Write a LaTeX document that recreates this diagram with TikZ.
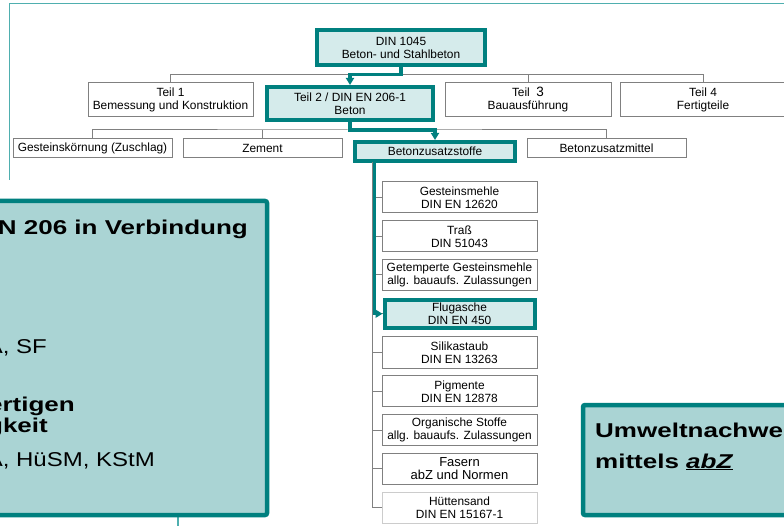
\documentclass[tikz,border=0pt]{standalone}
\usepackage{fontspec}
\setmainfont{Liberation Sans}
\usepackage{tikz}
\usetikzlibrary{arrows.meta}
\definecolor{petrol}{HTML}{00807F}
\definecolor{paleteal}{HTML}{D5EBEB}
\definecolor{boxteal}{HTML}{AAD4D4}
\definecolor{framecol}{HTML}{4FAFAF}
\definecolor{linegray}{HTML}{808080}
\newcommand\widetext[2]{\scalebox{#1}[1]{#2}}

\begin{document}
\begin{tikzpicture}[x=1pt,y=-1pt,>={Triangle[length=7pt,width=8pt]},
  every node/.style={font=\fontsize{11.9}{13}\selectfont,align=center,inner sep=0pt},
  plainbox/.style={draw=linegray,line width=1pt,fill=white,minimum width=159pt,minimum height=19pt},
  keybox/.style={draw=petrol,line width=4pt,fill=paleteal},
  listbox/.style={plainbox,minimum width=155pt,minimum height=31pt},
  flugbox/.style={keybox,minimum width=150pt,minimum height=28pt},
  faserbox/.style={listbox,font=\fontsize{13}{12.5}\selectfont},
  lightbox/.style={listbox,draw=black!20},
  treeline/.style={draw=linegray,line width=1pt},
  keyline/.style={draw=petrol,line width=3.5pt},
  bigbox/.style={draw=petrol,line width=4.5pt,fill=boxteal,rounded corners=2pt},
  boldtext/.style={font=\fontsize{20}{21}\selectfont\bfseries},
  regtext/.style={font=\fontsize{20}{21}\selectfont}]
  \useasboundingbox (0,0) rectangle (784,526);
  % frame
  \draw[framecol,line width=1.8pt] (9.5,180) |- (784,3.5);
  \draw[framecol,line width=1.5pt] (178,516) -- (178,526);

  % top levels
  \node[keybox,minimum width=168pt,minimum height=35pt] (din1045) at (401,47.5) {DIN 1045\\Beton- und Stahlbeton};
  \node[plainbox,minimum width=165pt,minimum height=34pt] (teil1) at (170.5,100) {Teil 1\\Bemessung und Konstruktion};
  \node[keybox,minimum width=166pt,minimum height=33pt] (teil2) at (350,103.5) {Teil 2 / DIN EN 206-1\\Beton};
  \node[plainbox,minimum width=166pt,minimum height=34pt] (teil3) at (528,100) {Teil~ {\fontsize{13.5}{13}\selectfont 3}\\Bauausführung};
  \node[plainbox,minimum width=166pt,minimum height=34pt] (teil4) at (703,100) {Teil 4\\Fertigteile};

  \node[plainbox] (gestein) at (92.5,148.5) {Gesteinskörnung (Zuschlag)};
  \node[plainbox] (zement) at (262.5,148.5) {Zement};
  \node[keybox,minimum width=160pt,minimum height=19pt] (zusatzstoffe) at (435,151.5) {Betonzusatzstoffe};
  \node[plainbox] (zusatzmittel) at (606.5,148.5) {Betonzusatzmittel};

  % list of Zusatzstoffe
  \foreach \sty/\txt [count=\i from 0] in {
      listbox/{Gesteinsmehle\\DIN EN 12620},
      listbox/{Traß\\DIN 51043},
      listbox/{Getemperte Gesteinsmehle\\allg. bauaufs. Zulassungen},
      flugbox/{Flugasche\\DIN EN 450},
      listbox/{Silikastaub\\DIN EN 13263},
      listbox/{Pigmente\\DIN EN 12878},
      listbox/{Organische Stoffe\\allg. bauaufs. Zulassungen},
      faserbox/{Fasern\\abZ und Normen},
      lightbox/{Hüttensand\\DIN EN 15167-1}}
    \node[\sty] (item\i) at (459.5,{197.5+38.75*\i}) {\txt};

  % connectors
  \coordinate (bus1) at (401,74.5);
  \draw[treeline] (teil1.north) |- (bus1) -| (teil4.north);
  \draw[treeline] (teil3.north) -- (teil3.north |- bus1);
  \draw[keyline,->] (din1045.south) |- (teil2.north |- bus1) -- (teil2.north);

  \coordinate (bus2) at (350,130);
  \draw[treeline] (gestein.north) |- (bus2) -| (zusatzmittel.north);
  \draw[treeline] (zement.north) -- (zement.north |- bus2);
  \draw[keyline,->] (teil2.south) |- (zusatzstoffe.north |- bus2) -- (zusatzstoffe.north);

  \coordinate (spine) at (372,162);
  \draw[treeline] (spine) |- (item8.west);
  \foreach \i in {0,...,7}
    \draw[treeline] (item\i.west) -- (spine |- item\i.west);
  \coordinate (keyspine) at (374.5,162);
  \draw[keyline,->] (keyspine) |- (item3.west);

  % overlay boxes
  \draw[bigbox] (-20,201) rectangle (267,515);
  \node[boldtext,anchor=base east] (lineA) at (248,235) {\widetext{1.3}{N 206 in Verbindung}};
  \node[regtext,anchor=base east] (lineB) at (47,353) {\widetext{1.2}{A, SF}};
  \node[boldtext,anchor=base east] (lineC) at (75,411) {\widetext{1.3}{ertigen}};
  \node[boldtext,anchor=base east] (lineD) at (48,432) {\widetext{1.3}{gkeit}};
  \node[regtext,anchor=base east] (lineE) at (155,466) {\widetext{1.2}{A, HüSM, KStM}};

  \draw[bigbox] (583,405) rectangle (810,515);
  \node[boldtext,anchor=base west] (rightA) at (595,437) {\widetext{1.3}{Umweltnachwe}};
  \node[boldtext,anchor=base west] (rightB) at (595,468) {\widetext{1.3}{mittels \underline{\textit{abZ}}}};
\end{tikzpicture}
\end{document}
